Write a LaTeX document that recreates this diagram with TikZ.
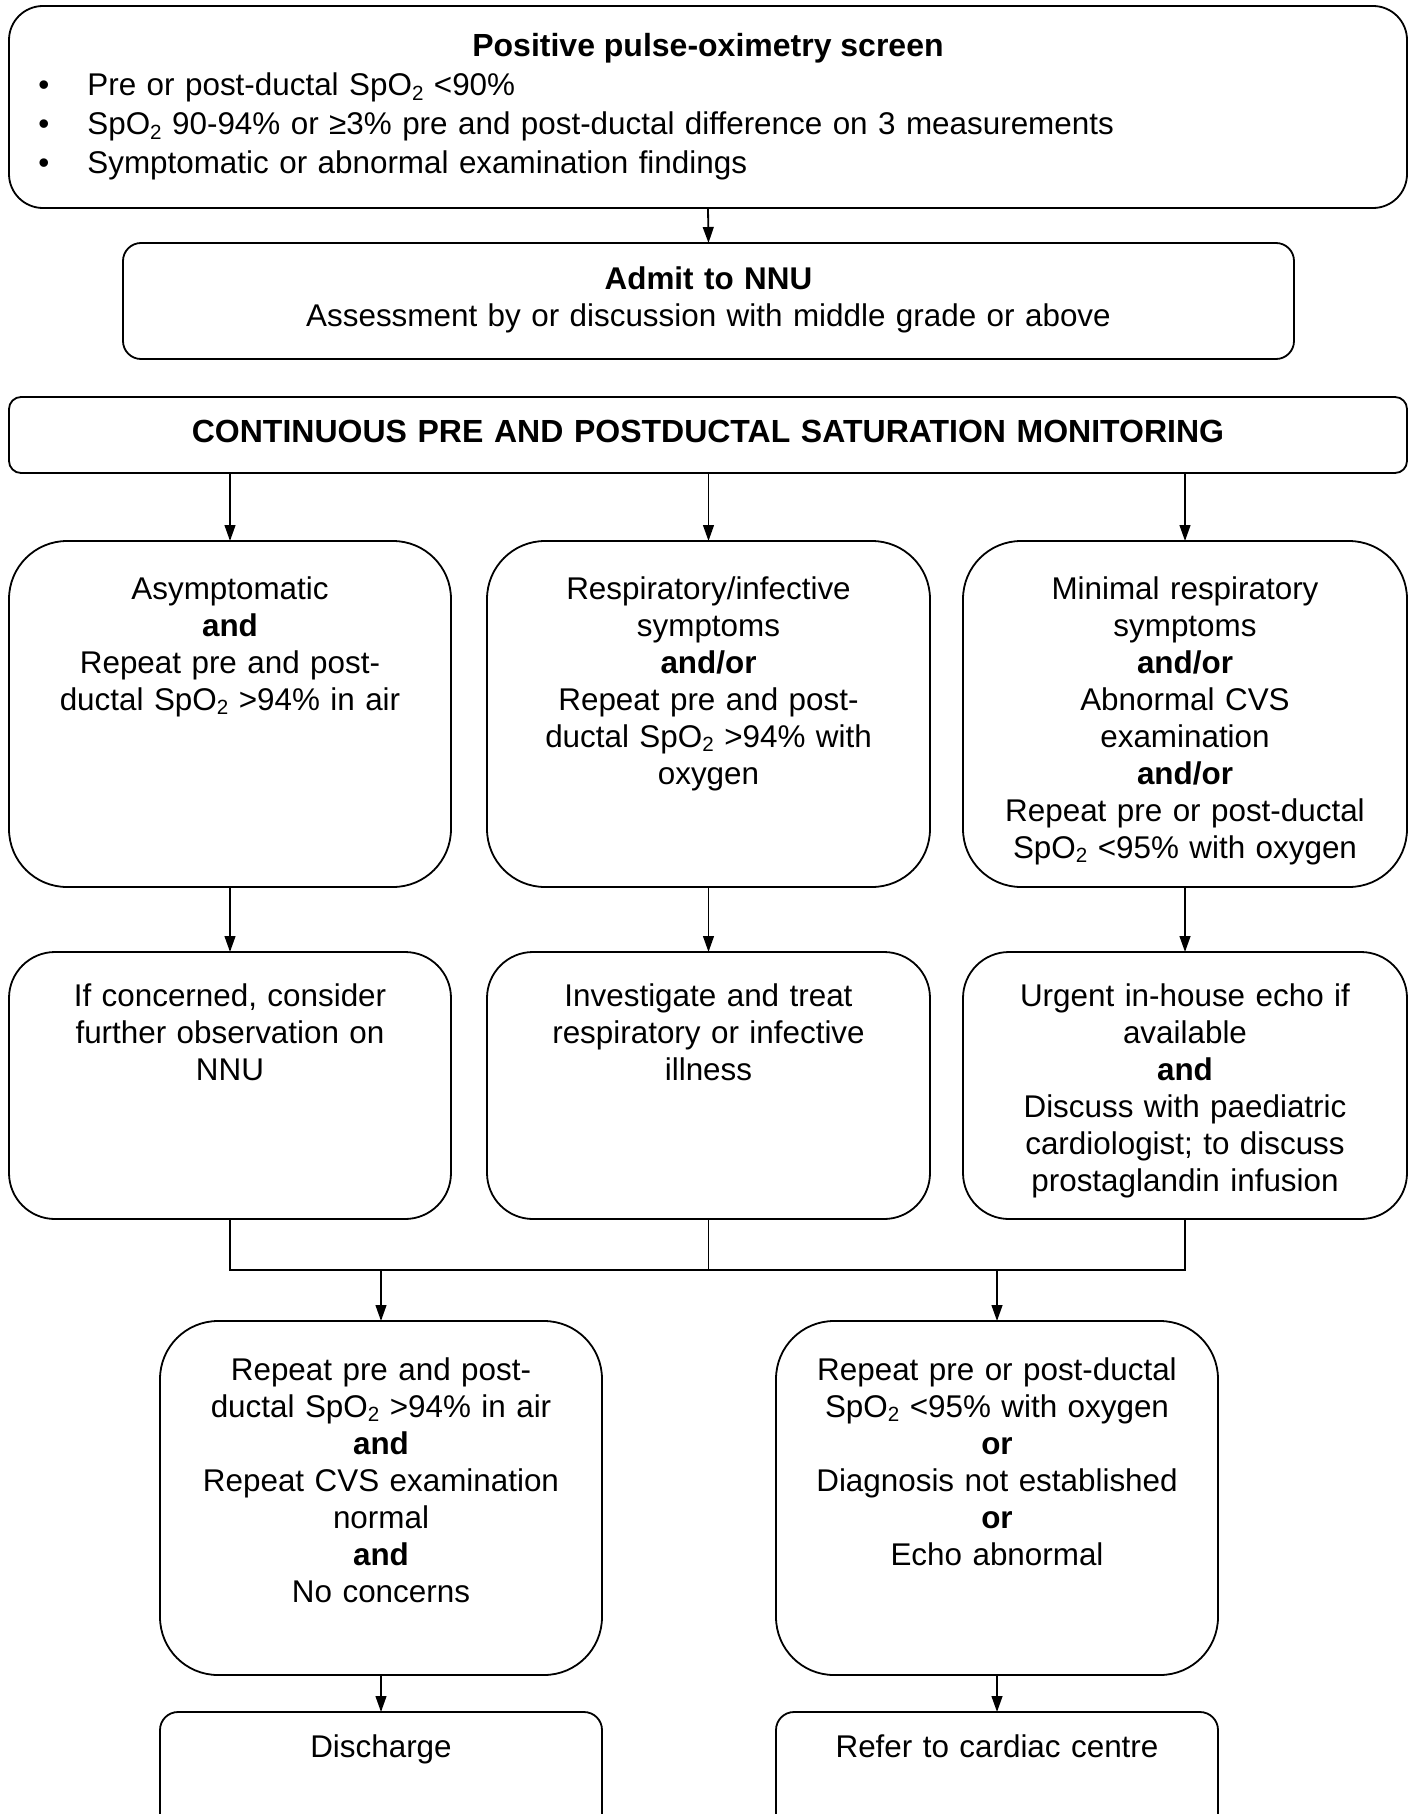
\documentclass[tikz,border=0pt]{standalone}
\usepackage{fontspec}
\setmainfont{Liberation Sans}
\usetikzlibrary{arrows.meta}
\newcommand{\stwo}{\raisebox{-0.3ex}{\fontsize{10.3}{10}\selectfont 2}}
\begin{document}
\begin{tikzpicture}[x=0.5pt,y=-0.5pt,
  box/.style={draw, line width=0.9pt, outer sep=0pt, inner sep=0pt},
  txt/.style={inner sep=0pt, anchor=base, align=center, font=\fontsize{15.7}{18.5}\selectfont},
  arr/.style={line width=0.9pt, -{Triangle[length=8pt,width=5.4pt]}},
  ln/.style={line width=0.9pt}]
\useasboundingbox (0,0) rectangle (1415,1814);
\clip (0,0) rectangle (1415,1814);
% top box
\node[box, rounded corners=17pt, minimum width=699pt, minimum height=101pt] (top) at (708,107) {};
\node[txt, font=\fontsize{16}{18.5}\bfseries] (ttl) at (708,57) {Positive pulse-oximetry screen};
\node[inner sep=0pt, anchor=base west, align=left, font=\fontsize{15.7}{19.4}\selectfont, text width=600pt] (bul) at (38,96)
 {\makebox[24.5pt][l]{•}Pre or post-ductal SpO\stwo{} <90\%\\
  \makebox[24.5pt][l]{•}SpO\stwo{} 90-94\% or ≥3\% pre and post-ductal difference on 3 measurements\\
  \makebox[24.5pt][l]{•}Symptomatic or abnormal examination findings};
% admit
\node[box, rounded corners=9pt, minimum width=585.5pt, minimum height=58pt] (adm) at (708.5,301) {};
\node[txt, text width=580pt] (tadm) at (708.5,289) {\textbf{Admit to NNU}\\[0.1pt]Assessment by or discussion with middle grade or above};
% continuous
\node[box, rounded corners=6pt, minimum width=699pt, minimum height=38pt] (cont) at (708,435) {};
\node[txt, text width=690pt, font=\fontsize{16}{18.5}\selectfont] (tcont) at (708,442) {\textbf{CONTINUOUS PRE AND POSTDUCTAL SATURATION MONITORING}};
% row 1
\node[box, rounded corners=29pt, minimum width=221pt, minimum height=173pt] (r1a) at (230,714) {};
\node[box, rounded corners=29pt, minimum width=221.5pt, minimum height=173pt] (r1b) at (708.5,714) {};
\node[box, rounded corners=29pt, minimum width=222pt, minimum height=173pt] (r1c) at (1185,714) {};
\node[txt, text width=215pt] (t1a) at (230,599) {Asymptomatic\\\textbf{and}\\Repeat pre and post-\\ductal SpO\stwo{} >94\% in air};
\node[txt, text width=215pt] (t1b) at (708.5,599) {Respiratory/infective\\symptoms\\\textbf{and/or}\\Repeat pre and post-\\ductal SpO\stwo{} >94\% with\\oxygen};
\node[txt, text width=215pt] (t1c) at (1185,599) {Minimal respiratory\\symptoms\\\textbf{and/or}\\Abnormal CVS\\examination\\\textbf{and/or}\\Repeat pre or post-ductal\\SpO\stwo{} <95\% with oxygen};
% row 2
\node[box, rounded corners=23pt, minimum width=221pt, minimum height=133.5pt] (r2a) at (230,1085.5) {};
\node[box, rounded corners=23pt, minimum width=221.5pt, minimum height=133.5pt] (r2b) at (708.5,1085.5) {};
\node[box, rounded corners=23pt, minimum width=222pt, minimum height=133.5pt] (r2c) at (1185,1085.5) {};
\node[txt, text width=215pt] (t2a) at (230,1006) {If concerned, consider\\further observation on\\NNU};
\node[txt, text width=215pt] (t2b) at (708.5,1006) {Investigate and treat\\respiratory or infective\\illness};
\node[txt, text width=215pt] (t2c) at (1185,1006) {Urgent in-house echo if\\available\\\textbf{and}\\Discuss with paediatric\\cardiologist; to discuss\\prostaglandin infusion};
% row 3
\node[box, rounded corners=29pt, minimum width=221pt, minimum height=177pt] (r3l) at (381,1498) {};
\node[box, rounded corners=29pt, minimum width=221pt, minimum height=177pt] (r3r) at (997,1498) {};
\node[txt, text width=215pt] (t3l) at (381,1380) {Repeat pre and post-\\ductal SpO\stwo{} >94\% in air\\\textbf{and}\\Repeat CVS examination\\normal\\\textbf{and}\\No concerns};
\node[txt, text width=215pt] (t3r) at (997,1380) {Repeat pre or post-ductal\\SpO\stwo{} <95\% with oxygen\\\textbf{or}\\Diagnosis not established\\\textbf{or}\\Echo abnormal};
% row 4
\node[box, rounded corners=9pt, minimum width=221pt, minimum height=64pt] (r4l) at (381,1776) {};
\node[box, rounded corners=9pt, minimum width=221pt, minimum height=64pt] (r4r) at (997,1776) {};
\node[txt, text width=215pt] (t4l) at (381,1757) {Discharge};
\node[txt, text width=215pt] (t4r) at (997,1757) {Refer to cardiac centre};
% connectors
\draw[arr] (top.south) -- (adm.north);
\draw[arr] (cont.south -| r1a.north) -- (r1a.north);
\draw[arr] (cont.south -| r1b.north) -- (r1b.north);
\draw[arr] (cont.south -| r1c.north) -- (r1c.north);
\draw[arr] (r1a.south) -- (r2a.north);
\draw[arr] (r1b.south) -- (r2b.north);
\draw[arr] (r1c.south) -- (r2c.north);
\coordinate (mL) at (230,1270);
\coordinate (mR) at (1185,1270);
\draw[ln] (r2a.south) -- (mL) -- (mR) -- (r2c.south);
\draw[ln] (r2b.south) -- (r2b.south |- mL);
\draw[arr] (r3l.north |- mL) -- (r3l.north);
\draw[arr] (r3r.north |- mL) -- (r3r.north);
\draw[arr] (r3l.south) -- (r4l.north);
\draw[arr] (r3r.south) -- (r4r.north);
\end{tikzpicture}
\end{document}
